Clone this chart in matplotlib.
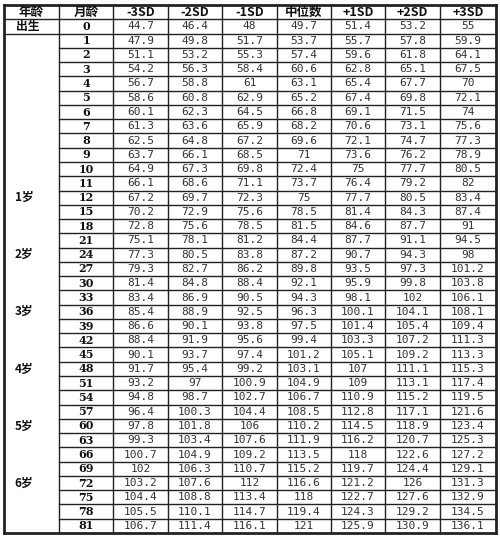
import matplotlib
matplotlib.use("Agg")
import matplotlib.pyplot as plt

headers = ["年龄", "月龄", "-3SD", "-2SD", "-1SD", "中位数", "+1SD", "+2SD", "+3SD"]
months = [0,1,2,3,4,5,6,7,8,9,10,11,12,15,18,21,24,27,30,33,36,39,42,45,48,51,54,57,60,63,66,69,72,75,78,81]
age_labels = {0: "出生", 12: "1岁", 24: "2岁", 36: "3岁", 48: "4岁", 60: "5岁", 72: "6岁"}
sd_m3 = ["44.7","47.9","51.1","54.2","56.7","58.6","60.1","61.3","62.5","63.7","64.9","66.1","67.2","70.2","72.8","75.1","77.3","79.3","81.4","83.4","85.4","86.6","88.4","90.1","91.7","93.2","94.8","96.4","97.8","99.3","100.7","102","103.2","104.4","105.5","106.7"]
sd_m2 = ["46.4","49.8","53.2","56.3","58.8","60.8","62.3","63.6","64.8","66.1","67.3","68.6","69.7","72.9","75.6","78.1","80.5","82.7","84.8","86.9","88.9","90.1","91.9","93.7","95.4","97","98.7","100.3","101.8","103.4","104.9","106.3","107.6","108.8","110.1","111.4"]
sd_m1 = ["48","51.7","55.3","58.4","61","62.9","64.5","65.9","67.2","68.5","69.8","71.1","72.3","75.6","78.5","81.2","83.8","86.2","88.4","90.5","92.5","93.8","95.6","97.4","99.2","100.9","102.7","104.4","106","107.6","109.2","110.7","112","113.4","114.7","116.1"]
median = ["49.7","53.7","57.4","60.6","63.1","65.2","66.8","68.2","69.6","71","72.4","73.7","75","78.5","81.5","84.4","87.2","89.8","92.1","94.3","96.3","97.5","99.4","101.2","103.1","104.9","106.7","108.5","110.2","111.9","113.5","115.2","116.6","118","119.4","121"]
sd_p1 = ["51.4","55.7","59.6","62.8","65.4","67.4","69.1","70.6","72.1","73.6","75","76.4","77.7","81.4","84.6","87.7","90.7","93.5","95.9","98.1","100.1","101.4","103.3","105.1","107","109","110.9","112.8","114.5","116.2","118","119.7","121.2","122.7","124.3","125.9"]
sd_p2 = ["53.2","57.8","61.8","65.1","67.7","69.8","71.5","73.1","74.7","76.2","77.7","79.2","80.5","84.3","87.7","91.1","94.3","97.3","99.8","102","104.1","105.4","107.2","109.2","111.1","113.1","115.2","117.1","118.9","120.7","122.6","124.4","126","127.6","129.2","130.9"]
sd_p3 = ["55","59.9","64.1","67.5","70","72.1","74","75.6","77.3","78.9","80.5","82","83.4","87.4","91","94.5","98","101.2","103.8","106.1","108.1","109.4","111.3","113.3","115.3","117.4","119.5","121.6","123.4","125.3","127.2","129.1","131.3","132.9","134.5","136.1"]

cols = [sd_m3, sd_m2, sd_m1, median, sd_p1, sd_p2, sd_p3]
xb = [4, 59, 113, 168, 222, 277, 331, 385, 440, 496]
top, bot = 5, 533
nrows = len(months) + 1
rh = (bot - top) / nrows

fig = plt.figure(figsize=(5, 5.38), dpi=100)
ax = fig.add_axes([0, 0, 1, 1])
ax.set_xlim(0, 500); ax.set_ylim(538, 0); ax.axis("off")
lc = "#222222"
cjk = ["Noto Sans CJK SC", "DejaVu Sans"]
# vertical lines
for i, x in enumerate(xb):
    lw = 2 if i in (0, len(xb) - 1) else 1
    ax.plot([x, x], [top, bot], color=lc, lw=lw)
# horizontal
for r in range(nrows + 1):
    y = top + r * rh
    if r in (0, nrows):
        ax.plot([xb[0], xb[-1]], [y, y], color=lc, lw=2)
    elif r <= 2:
        ax.plot([xb[0], xb[-1]], [y, y], color=lc, lw=1)
    else:
        ax.plot([xb[1], xb[-1]], [y, y], color=lc, lw=1)
# header
for j, h in enumerate(headers):
    ax.text((xb[j] + xb[j+1]) / 2, top + rh / 2, h, ha="center", va="center",
            fontsize=9, fontweight="bold", family=cjk, color="#111111")
for i, m in enumerate(months):
    yc = top + (i + 1.5) * rh
    if m in age_labels:
        ax.text(xb[0] + 20 if m else xb[0] + 24, yc, age_labels[m], ha="center", va="center",
                fontsize=8.5, fontweight="bold", family=cjk, color="#111111")
    ax.text((xb[1] + xb[2]) / 2, yc, str(m), ha="center", va="center",
            fontsize=8, fontweight="bold", family=["DejaVu Serif"], color="#111111")
    for j, c in enumerate(cols):
        ax.text((xb[j+2] + xb[j+3]) / 2, yc, c[i], ha="center", va="center",
                fontsize=8, family=["DejaVu Sans Mono"], color="#333333")
fig.savefig("out.png", dpi=100)
